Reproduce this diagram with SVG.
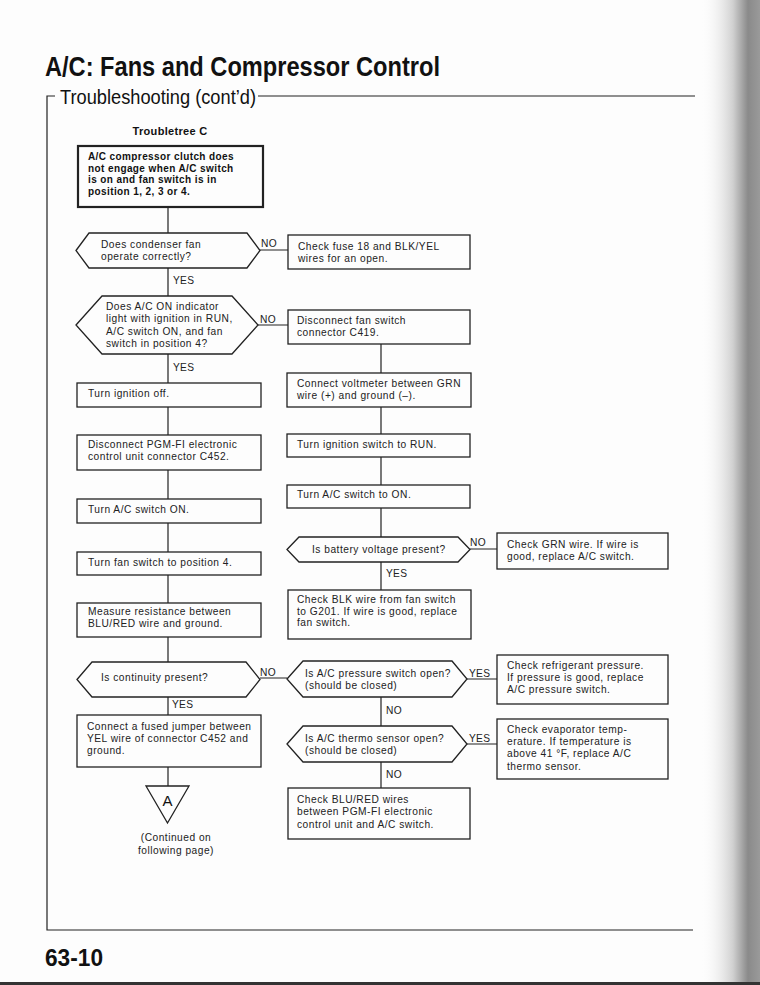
<svg xmlns="http://www.w3.org/2000/svg" width="760" height="985" viewBox="0 0 760 985">
<defs>
<linearGradient id="shadow" x1="0" y1="0" x2="1" y2="0">
<stop offset="0" stop-color="#ffffff" stop-opacity="0"/>
<stop offset="0.55" stop-color="#d0d0d0"/>
<stop offset="0.8" stop-color="#8a8a8a"/>
<stop offset="1" stop-color="#9a9a9a"/>
</linearGradient>
</defs>
<style>
.bx{fill:none;stroke:#222;stroke-width:1.3}
.bx2{fill:none;stroke:#222;stroke-width:2.2}
.ln{fill:none;stroke:#222;stroke-width:1.2}
.t{font-family:"Liberation Sans",Arial,sans-serif;font-size:10.2px;letter-spacing:0.5px;fill:#222}
.tb{font-family:"Liberation Sans",Arial,sans-serif;font-size:10px;font-weight:bold;letter-spacing:0.4px;fill:#111}
.lbl{font-family:"Liberation Sans",Arial,sans-serif;font-size:10.2px;letter-spacing:0.3px;fill:#222}
.hd{font-family:"Liberation Sans",Arial,sans-serif;fill:#111}
</style>
<rect x="0" y="0" width="760" height="985" fill="#fdfdfd"/>
<rect x="700" y="0" width="60" height="985" fill="url(#shadow)"/>
<rect x="0" y="982" width="760" height="3" fill="#333"/>

<g id="header">
<text class="hd" x="45" y="76" font-size="27" font-weight="bold" textLength="395" lengthAdjust="spacingAndGlyphs">A/C: Fans and Compressor Control</text>
<text class="hd" x="60" y="104" font-size="20" textLength="196" lengthAdjust="spacingAndGlyphs">Troubleshooting (cont’d)</text>
<path class="ln" d="M55 96 H47 V930 H693 M258 96 H695" stroke-width="1.4"/>
<text class="hd" x="45" y="966" font-size="24" font-weight="bold" textLength="58" lengthAdjust="spacingAndGlyphs">63-10</text>
<text class="hd" x="170" y="135" font-size="11" font-weight="bold" text-anchor="middle" letter-spacing="0.3">Troubletree C</text>
</g>

<g id="connectors">
<path class="ln" d="M168 207 V233 M168 268 V296 M168 354 V383 M168 407 V435 M168 470 V499 M168 523 V552 M168 575 V603 M168 637 V662 M168 697 V715 M168 767 V786"/>
<path class="ln" d="M260 250 H288 M258 325 H288 M260 678 H287"/>
<path class="ln" d="M381 344 V373 M381 407 V434 M381 457 V485 M381 508 V537 M381 562 V590 M381 697 V726 M381 762 V788"/>
<path class="ln" d="M470 549 H497 M467 679 H497 M467 744 H497"/>
<text class="lbl" x="261" y="247">NO</text>
<text class="lbl" x="260" y="323">NO</text>
<text class="lbl" x="173" y="284">YES</text>
<text class="lbl" x="173" y="371">YES</text>
<text class="lbl" x="470" y="546">NO</text>
<text class="lbl" x="386" y="577">YES</text>
<text class="lbl" x="260" y="676">NO</text>
<text class="lbl" x="172" y="708">YES</text>
<text class="lbl" x="469" y="677">YES</text>
<text class="lbl" x="469" y="742">YES</text>
<text class="lbl" x="386" y="714">NO</text>
<text class="lbl" x="386" y="778">NO</text>
</g>

<g id="start">
<rect class="bx2" x="78" y="146" width="185" height="61"/>
<text class="tb" x="88" y="160">A/C compressor clutch does</text>
<text class="tb" x="88" y="171.5">not engage when A/C switch</text>
<text class="tb" x="88" y="183">is on and fan switch is in</text>
<text class="tb" x="88" y="194.5">position 1, 2, 3 or 4.</text>
</g>

<g id="q-condenser">
<polygon class="bx" points="76,250.5 89,233 247,233 260,250.5 247,268 89,268"/>
<text class="t" x="101" y="247.5">Does condenser fan</text>
<text class="t" x="101" y="259.5">operate correctly?</text>
</g>

<g id="fuse">
<rect class="bx" x="288" y="235" width="182" height="34"/>
<text class="t" x="298" y="250">Check fuse 18 and BLK/YEL</text>
<text class="t" x="298" y="261.5">wires for an open.</text>
</g>

<g id="q-indicator">
<polygon class="bx" points="76,325 102,296 232,296 258,325 232,354 102,354"/>
<text class="t" x="106" y="310">Does A/C ON indicator</text>
<text class="t" x="106" y="322">light with ignition in RUN,</text>
<text class="t" x="106" y="334.5">A/C switch ON, and fan</text>
<text class="t" x="106" y="346.5">switch in position 4?</text>
</g>

<g id="disc-fan">
<rect class="bx" x="288" y="310" width="182" height="34"/>
<text class="t" x="297" y="324">Disconnect fan switch</text>
<text class="t" x="297" y="336">connector C419.</text>
</g>

<g id="ign-off">
<rect class="bx" x="77" y="383" width="184" height="24"/>
<text class="t" x="88" y="397">Turn ignition off.</text>
</g>

<g id="voltmeter">
<rect class="bx" x="287" y="373" width="184" height="34"/>
<text class="t" x="297" y="387">Connect voltmeter between GRN</text>
<text class="t" x="297" y="398.5">wire (+) and ground (–).</text>
</g>

<g id="disc-pgm">
<rect class="bx" x="77" y="435" width="184" height="35"/>
<text class="t" x="88" y="448">Disconnect PGM-FI electronic</text>
<text class="t" x="88" y="460">control unit connector C452.</text>
</g>

<g id="ign-run">
<rect class="bx" x="287" y="434" width="183" height="23"/>
<text class="t" x="297" y="448">Turn ignition switch to RUN.</text>
</g>

<g id="ac-on-left">
<rect class="bx" x="77" y="499" width="184" height="24"/>
<text class="t" x="88" y="513">Turn A/C switch ON.</text>
</g>

<g id="ac-on-right">
<rect class="bx" x="287" y="485" width="183" height="23"/>
<text class="t" x="297" y="498">Turn A/C switch to ON.</text>
</g>

<g id="q-battery">
<polygon class="bx" points="287,549.5 299,537 458,537 470,549.5 458,562 299,562"/>
<text class="t" x="312" y="552.5">Is battery voltage present?</text>
</g>

<g id="grn">
<rect class="bx" x="497" y="533" width="171" height="36"/>
<text class="t" x="507" y="548">Check GRN wire. If wire is</text>
<text class="t" x="507" y="559.5">good, replace A/C switch.</text>
</g>

<g id="blk">
<rect class="bx" x="288" y="590" width="183" height="49"/>
<text class="t" x="297" y="603">Check BLK wire from fan switch</text>
<text class="t" x="297" y="614.5">to G201. If wire is good, replace</text>
<text class="t" x="297" y="626">fan switch.</text>
</g>

<g id="fan-4">
<rect class="bx" x="77" y="552" width="184" height="23"/>
<text class="t" x="88" y="566">Turn fan switch to position 4.</text>
</g>

<g id="measure">
<rect class="bx" x="77" y="603" width="184" height="34"/>
<text class="t" x="88" y="615">Measure resistance between</text>
<text class="t" x="88" y="627">BLU/RED wire and ground.</text>
</g>

<g id="q-continuity">
<polygon class="bx" points="77,679.5 92,662 246,662 260,679.5 246,697 92,697"/>
<text class="t" x="101" y="681">Is continuity present?</text>
</g>

<g id="q-pressure">
<polygon class="bx" points="287,679 303,661 452,661 467,679 452,697 303,697"/>
<text class="t" x="305" y="677">Is A/C pressure switch open?</text>
<text class="t" x="305" y="688.5">(should be closed)</text>
</g>

<g id="refrigerant">
<rect class="bx" x="497" y="655" width="171" height="49"/>
<text class="t" x="507" y="669">Check refrigerant pressure.</text>
<text class="t" x="507" y="681">If pressure is good, replace</text>
<text class="t" x="507" y="693">A/C pressure switch.</text>
</g>

<g id="q-thermo">
<polygon class="bx" points="287,744 303,726 452,726 467,744 452,762 303,762"/>
<text class="t" x="305" y="742">Is A/C thermo sensor open?</text>
<text class="t" x="305" y="753.5">(should be closed)</text>
</g>

<g id="evaporator">
<rect class="bx" x="497" y="719" width="171" height="60"/>
<text class="t" x="507" y="733">Check evaporator temp-</text>
<text class="t" x="507" y="745">erature. If temperature is</text>
<text class="t" x="507" y="757">above 41 °F, replace A/C</text>
<text class="t" x="507" y="769.5">thermo sensor.</text>
</g>

<g id="blu-red">
<rect class="bx" x="288" y="788" width="182" height="51"/>
<text class="t" x="297" y="803">Check BLU/RED wires</text>
<text class="t" x="297" y="815">between PGM-FI electronic</text>
<text class="t" x="297" y="827.5">control unit and A/C switch.</text>
</g>

<g id="jumper">
<rect class="bx" x="77" y="715" width="184" height="52"/>
<text class="t" x="87" y="730">Connect a fused jumper between</text>
<text class="t" x="87" y="742">YEL wire of connector C452 and</text>
<text class="t" x="87" y="754">ground.</text>
</g>

<g id="to-A">
<polygon class="bx" points="146,786 189,786 167.5,823"/>
<text class="hd" x="167.5" y="806" font-size="15" text-anchor="middle">A</text>
<text class="t" x="176" y="841" text-anchor="middle">(Continued on</text>
<text class="t" x="176" y="854" text-anchor="middle">following page)</text>
</g>
</svg>
